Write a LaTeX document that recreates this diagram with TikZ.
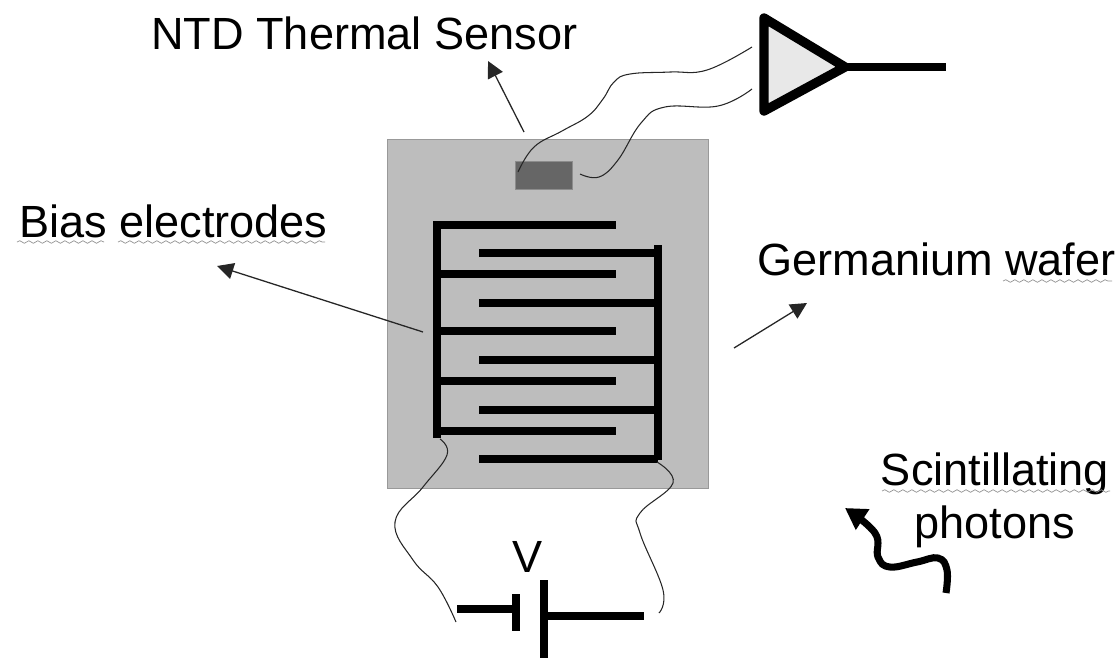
\documentclass[tikz,border=0pt]{standalone}
\usepackage{fontspec}
\setmainfont{Liberation Sans}
\usepackage{tikz}
\usetikzlibrary{arrows.meta,decorations.pathmorphing}
\definecolor{wafer}{HTML}{BDBDBD}
\definecolor{sensor}{HTML}{666666}
\definecolor{amp}{HTML}{E8E8E8}

\begin{document}
\begin{tikzpicture}[x=0.03cm,y=-0.03cm,
  lbl/.style={inner sep=0pt,font=\fontsize{38.5}{47}\selectfont,black},
  ptr/.style={-{Triangle[length=14pt,width=14pt]},line width=1.1pt,black!85},
  wire/.style={line width=0.9pt,black!85},
  bar/.style={line width=7.2pt,black},
  squig/.style={gray!85,line width=0.6pt,decorate,decoration={snake,amplitude=1.1pt,segment length=7.7pt}}]
\useasboundingbox (0,0) rectangle (1118,658);

% ---- wafer and sensor
\node[draw=gray!80,fill=wafer,line width=0.5pt,minimum width=9.63cm,minimum height=10.47cm,inner sep=0pt,anchor=north west] (wafer) at (387,139) {};
\node[fill=sensor,draw=gray!90,line width=0.4pt,minimum width=1.71cm,minimum height=0.84cm,inner sep=0pt,anchor=north west] (ntd) at (515,161) {};

% ---- left comb
\draw[bar] (437,221) -- (437,438);
\foreach \yy in {225,274,331,381,431}
  \draw[bar] (434,\yy) -- (616,\yy);

% ---- right comb
\draw[bar] (658,245) -- (658,460);
\foreach \yy in {253,303,360,410,459}
  \draw[bar] (658,\yy) -- (479,\yy);

% ---- amplifier
\coordinate (amptop) at (764,18);
\coordinate (ampbot) at (764,111);
\coordinate (amptip) at (845,67);
\coordinate (ampout) at (946,67);
\draw[line width=8pt,fill=amp,line join=round] (amptop) -- (amptip) -- (ampbot) -- cycle;
\draw[line width=6.8pt] (amptip) -- (ampout);

% ---- battery
\coordinate (plus1) at (457,609);
\coordinate (plus2) at (516,609);
\coordinate (minus1) at (544,616);
\coordinate (minus2) at (644,616);
\draw[line width=6.4pt] (plus1) -- (plus2);
\draw[line width=7.2pt] (516,594) -- (516,631);
\draw[line width=7.2pt] (544,580) -- (544,658);
\draw[line width=6.4pt] (minus1) -- (minus2);
\node[lbl,anchor=base] (volt) at (528,572) {V};

% ---- wires
\draw[wire] plot[smooth,tension=0.7] coordinates {(518,172) (534,147) (562,131) (588,116) (603,99) (614,82) (630,74) (670,72) (707,70) (752,47)};
\draw[wire] plot[smooth,tension=0.7] coordinates {(580,174) (599,177) (618,160) (641,123) (665,107) (718,106) (752,89)};
\draw[wire] plot[smooth,tension=0.7] coordinates {(440,439) (447,455) (423,487) (395,522) (413,560) (438,587) (456,622)};
\draw[wire] plot[smooth,tension=0.7] coordinates {(657,462) (673,483) (640,513) (640,533) (663,590) (659,613)};

% ---- labels
\node[lbl,anchor=base west] (ntdlbl) at (151,49) {NTD Thermal Sensor};
\node[lbl,anchor=base west] (biaslbl) at (19,237) {Bias electrodes};
\node[lbl,anchor=base west] (gelbl) at (757,275) {Germanium wafer};
\node[lbl,anchor=base] (scintlbl) at (995,485) {Scintillating};
\node[lbl,anchor=base] (photlbl) at (995,538) {photons};

% ---- spell-check underlines
\draw[squig] (17,242) -- (104,242);
\draw[squig] (118,242) -- (325,242);
\draw[squig] (1003,281) -- (1112,281);
\draw[squig] (882,491) -- (1110,491);

% ---- pointers
\coordinate (ntdfoot) at (524,132);
\coordinate (ntdhead) at (488,61);
\coordinate (biasfoot) at (423,332);
\coordinate (biashead) at (217,266);
\coordinate (gefoot) at (734,348);
\coordinate (gehead) at (807,303);
\draw[ptr] (ntdfoot) -- (ntdhead);
\draw[ptr] (biasfoot) -- (biashead);
\draw[ptr] (gefoot) -- (gehead);

% ---- photon
\draw[-{Triangle[length=18pt,width=20pt]},line width=6pt] plot[smooth,tension=0.7] coordinates {(946,593) (947,570) (938,558) (917,562) (890,567) (878,557) (875,533) (845,508)};
\end{tikzpicture}
\end{document}
